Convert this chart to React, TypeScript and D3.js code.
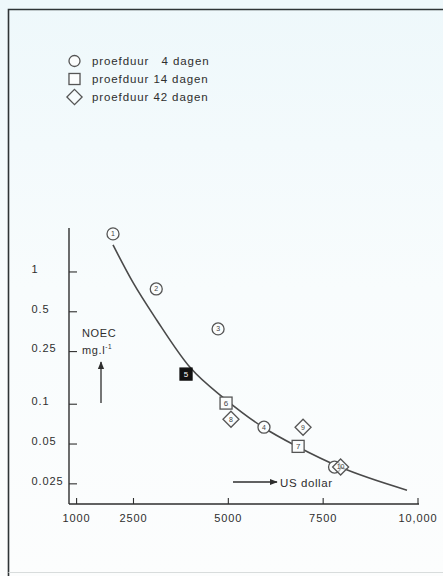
import React from 'react';
import * as d3 from 'd3';

// axis ticks
const xTicks = [1000, 2500, 5000, 7500, 10000];
const xTickLabels = ['1000', '2500', '5000', '7500', '10,000'];
const yTicks = [1, 0.5, 0.25, 0.1, 0.05, 0.025];
const yTickLabels = ['1', '0.5', '0.25', '0.1', '0.05', '0.025'];

// test points (cost in US dollar, NOEC in mg/l)
const pointIds = ['1', '2', '3', '5', '6', '8', '4', '9', '7', '10', '10'];
const pointCost = [1960, 3100, 4730, 3885, 4940, 5070, 5940, 6970, 6840, 7800, 7960];
const pointNoec = [1.94, 0.744, 0.371, 0.169, 0.102, 0.077, 0.067, 0.067, 0.048, 0.0335, 0.0335];
const pointShape = ['circle', 'circle', 'circle', 'filled', 'square', 'diamond', 'circle', 'diamond', 'square', 'circle', 'diamond'];

// fitted curve
const curveCost = [1960, 2490, 3120, 3990, 4940, 5915, 6840, 7945, 9710];
const curveNoec = [1.6, 0.83, 0.43, 0.19, 0.108, 0.067, 0.0475, 0.0335, 0.0224];

const legendShapes = ['circle', 'square', 'diamond'];
const legendLabels = ['proefduur   4 dagen', 'proefduur 14 dagen', 'proefduur 42 dagen'];

const ink = '#2e2e2e';
const font = '"Liberation Sans", Arial, sans-serif';

function Marker({ shape, x, y, label, s = 1 }: any) {
  if (shape === 'circle') {
    return (
      <g>
        <circle cx={x} cy={y} r={6 * s} fill="#fbfdfd" stroke="#555" strokeWidth={1.3} />
        {label && <text x={x} y={y} dy="0.35em" textAnchor="middle" fontSize={7} fill="#444" fontFamily={font}>{label}</text>}
      </g>
    );
  }
  if (shape === 'square' || shape === 'filled') {
    const filled = shape === 'filled';
    return (
      <g>
        <rect x={x - 6 * s} y={y - 6 * s} width={12 * s} height={12 * s} fill={filled ? '#111' : '#fbfdfd'} stroke={filled ? '#111' : '#555'} strokeWidth={1.3} />
        {label && <text x={x} y={y} dy="0.35em" textAnchor="middle" fontSize={8} fill={filled ? '#fff' : '#444'} fontFamily={font}>{label}</text>}
      </g>
    );
  }
  const d = 8 * s;
  return (
    <g>
      <path d={`M${x},${y - d}L${x + d},${y}L${x},${y + d}L${x - d},${y}Z`} fill="#fbfdfd" fillOpacity={0.6} stroke="#555" strokeWidth={1.3} />
      {label && <text x={x} y={y} dy="0.35em" textAnchor="middle" fontSize={7} fill="#444" fontFamily={font}>{label}</text>}
    </g>
  );
}

export default function App() {
  const xScale = d3.scaleLinear().domain([800, 10000]).range([69, 418]);
  const yScale = d3.scaleLog().domain([0.0176, 2.15]).range([504, 228]);

  const line = d3.line<number>()
    .x((_, i) => xScale(curveCost[i]))
    .y((_, i) => yScale(curveNoec[i]))
    .curve(d3.curveMonotoneX);

  const x0 = xScale(800);
  const yBase = yScale(0.0176);

  return (
    <svg width={443} height={576} style={{ position: 'absolute', left: 0, top: 0 }} fontFamily={font}>
      <defs>
        <linearGradient id="bg" x1="0" y1="0" x2="0" y2="1">
          <stop offset="0" stopColor="#eef8fb" />
          <stop offset="0.5" stopColor="#f8fcfd" />
          <stop offset="1" stopColor="#fcfdfd" />
        </linearGradient>
        <marker id="ah" viewBox="0 0 10 10" refX="9" refY="5" markerWidth="6" markerHeight="6" orient="auto">
          <path d="M0,1L10,5L0,9Z" fill={ink} />
        </marker>
      </defs>
      <rect width={443} height={576} fill="url(#bg)" />
      {/* frame */}
      <path d="M8.5,576V9.5H443" fill="none" stroke="#2e3436" strokeWidth={1.6} />
      <path d="M8.5,572.5H443" fill="none" stroke="#d8dcdc" strokeWidth={1} />

      {/* legend */}
      {legendShapes.map((s, i) => (
        <g key={s}>
          <Marker shape={s} x={74.5} y={61 + i * 18} s={s === 'diamond' ? 0.95 : 0.92} />
          <text x={92} y={65 + i * 18} fontSize={11.5} letterSpacing={0.9} fill={ink} style={{ whiteSpace: 'pre' }}>{legendLabels[i]}</text>
        </g>
      ))}

      {/* axes */}
      <line x1={x0} x2={x0} y1={228} y2={yBase} stroke={ink} strokeWidth={1.4} />
      <line x1={x0} x2={xScale(10000) + 1} y1={yBase} y2={yBase} stroke={ink} strokeWidth={1.4} />
      {yTicks.map((t, i) => (
        <g key={t}>
          <line x1={x0} x2={x0 + 8} y1={yScale(t)} y2={yScale(t)} stroke={ink} strokeWidth={1.1} />
          <text x={31.5} y={yScale(t) - 3} dy="0.35em" fontSize={11} letterSpacing={0.9} fill={ink}>{yTickLabels[i]}</text>
        </g>
      ))}
      {xTicks.map((t, i) => (
        <g key={t}>
          <line x1={xScale(t)} x2={xScale(t)} y1={yBase} y2={yBase - 6} stroke={ink} strokeWidth={1.1} />
          <text x={xScale(t)} y={522} textAnchor="middle" fontSize={11} letterSpacing={0.9} fill={ink}>{xTickLabels[i]}</text>
        </g>
      ))}

      {/* axis titles */}
      <text x={82} y={337} fontSize={11} letterSpacing={0.6} fill={ink}>NOEC</text>
      <text x={82} y={354} fontSize={11} letterSpacing={0.6} fill={ink}>mg.l<tspan dy={-5} fontSize={6.5}>-1</tspan></text>
      <line x1={101} x2={101} y1={403} y2={362} stroke={ink} strokeWidth={1.3} markerEnd="url(#ah)" />
      <line x1={233} x2={277} y1={482} y2={482} stroke={ink} strokeWidth={1.3} markerEnd="url(#ah)" />
      <text x={280} y={487} fontSize={11.5} letterSpacing={0.6} fill={ink}>US dollar</text>

      {/* curve */}
      <path d={line(curveCost) || ''} fill="none" stroke="#4a4a4a" strokeWidth={1.6} />

      {/* points */}
      {pointIds.map((id, i) => (
        <Marker key={i} shape={pointShape[i]} x={xScale(pointCost[i])} y={yScale(pointNoec[i])} label={i === 9 ? '' : id} />
      ))}
    </svg>
  );
}
